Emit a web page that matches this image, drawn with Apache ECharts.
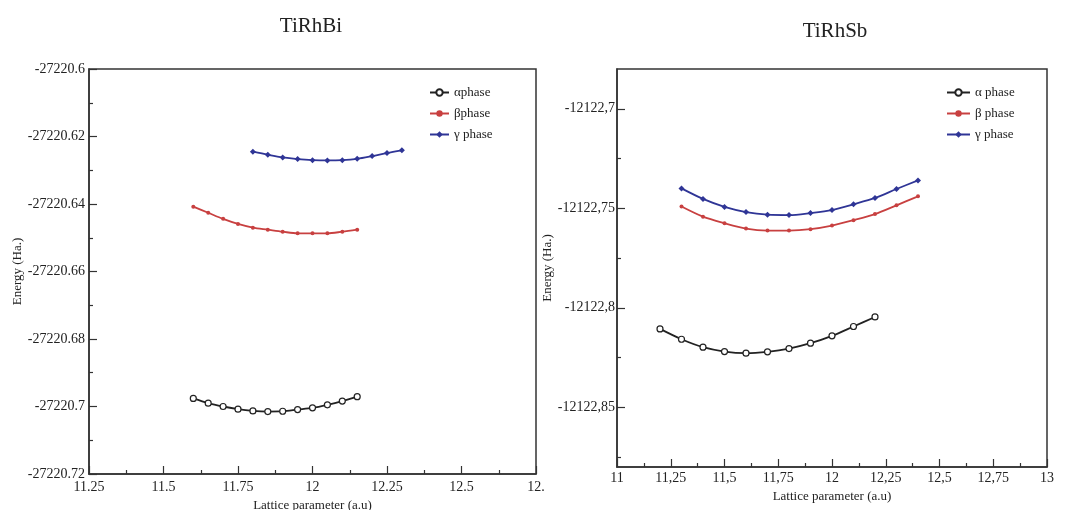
<!DOCTYPE html>
<html>
<head>
<meta charset="utf-8">
<script src="https://cdn.jsdelivr.net/npm/echarts@6/dist/echarts.min.js"></script>
<style>
  html, body { margin: 0; padding: 0; background: #fff; }
  #chart { width: 1065px; height: 510px; }
</style>
</head>
<body>
<div id="chart"></div>
<script>
// TiRhBi
const biAlphaX = [11.6, 11.65, 11.7, 11.75, 11.8, 11.85, 11.9, 11.95, 12, 12.05, 12.1, 12.15]
const biAlphaY = [-27220.6976, -27220.6990, -27220.7000, -27220.7008, -27220.7013, -27220.7015, -27220.7014, -27220.7009, -27220.7004, -27220.6995, -27220.6984, -27220.6971]
const biBetaX = [11.6, 11.65, 11.7, 11.75, 11.8, 11.85, 11.9, 11.95, 12, 12.05, 12.1, 12.15]
const biBetaY = [-27220.6408, -27220.6426, -27220.6444, -27220.6459, -27220.6470, -27220.6476, -27220.6482, -27220.6487, -27220.6487, -27220.6487, -27220.6482, -27220.6476]
const biGammaX = [11.8, 11.85, 11.9, 11.95, 12, 12.05, 12.1, 12.15, 12.2, 12.25, 12.3]
const biGammaY = [-27220.6245, -27220.6254, -27220.6262, -27220.6267, -27220.6270, -27220.6271, -27220.6270, -27220.6266, -27220.6258, -27220.6249, -27220.6241]

const biXTicks = [11.25, 11.5, 11.75, 12, 12.25, 12.5, 12.75]
const biXLabels = ['11.25', '11.5', '11.75', '12', '12.25', '12.5', '12.']
const biXMinor = [11.375, 11.625, 11.875, 12.125, 12.375, 12.625]
const biYTicks = [-27220.72, -27220.7, -27220.68, -27220.66, -27220.64, -27220.62, -27220.6]
const biYLabels = ['-27220.72', '-27220.7', '-27220.68', '-27220.66', '-27220.64', '-27220.62', '-27220.6']
const biYMinor = [-27220.71, -27220.69, -27220.67, -27220.65, -27220.63, -27220.61]

// TiRhSb
const sbAlphaX = [11.2, 11.3, 11.4, 11.5, 11.6, 11.7, 11.8, 11.9, 12, 12.1, 12.2]
const sbAlphaY = [-12122.8106, -12122.8158, -12122.8198, -12122.8220, -12122.8228, -12122.8221, -12122.8205, -12122.8178, -12122.8141, -12122.8094, -12122.8046]
const sbBetaX = [11.3, 11.4, 11.5, 11.6, 11.7, 11.8, 11.9, 12, 12.1, 12.2, 12.3, 12.4]
const sbBetaY = [-12122.7491, -12122.7542, -12122.7575, -12122.7602, -12122.7612, -12122.7612, -12122.7605, -12122.7587, -12122.7560, -12122.7529, -12122.7485, -12122.7440]
const sbGammaX = [11.3, 11.4, 11.5, 11.6, 11.7, 11.8, 11.9, 12, 12.1, 12.2, 12.3, 12.4]
const sbGammaY = [-12122.7400, -12122.7453, -12122.7493, -12122.7519, -12122.7532, -12122.7534, -12122.7524, -12122.7509, -12122.7480, -12122.7448, -12122.7403, -12122.7360]

const sbXTicks = [11, 11.25, 11.5, 11.75, 12, 12.25, 12.5, 12.75, 13]
const sbXLabels = ['11', '11,25', '11,5', '11,75', '12', '12,25', '12,5', '12,75', '13']
const sbXMinor = [11.125, 11.375, 11.625, 11.875, 12.125, 12.375, 12.625, 12.875]
const sbYTicks = [-12122.85, -12122.8, -12122.75, -12122.7]
const sbYLabels = ['-12122,85', '-12122,8', '-12122,75', '-12122,7']
const sbYMinor = [-12122.875, -12122.825, -12122.775, -12122.725]

const SERIF = 'Liberation Serif'
const AXIS_COLOR = '#333'
const BLACK = '#222'
const RED = '#c84040'
const BLUE = '#2f3596'

const pick = (ticks, labels) => v => {
    const i = ticks.findIndex(t => Math.abs(t - v) < 1e-6)
    return i < 0 ? '' : labels[i]
}

const zip = (xs, ys) => xs.map((x, i) => [x, ys[i]])

const mainAxis = (grid, pos, min, max, ticks, labels, margin, extra) => Object.assign({
    type: 'value',
    gridIndex: grid,
    position: pos,
    min: min,
    max: max,
    axisLine: { show: true, lineStyle: { color: AXIS_COLOR, width: 1.5 } },
    axisTick: { show: true, inside: true, length: 8, customValues: ticks, lineStyle: { color: AXIS_COLOR, width: 1.2 } },
    axisLabel: {
        customValues: ticks,
        formatter: pick(ticks, labels),
        margin: margin,
        color: '#222',
        fontFamily: SERIF,
        fontSize: 14
    },
    splitLine: { show: false },
    nameTextStyle: { color: '#222', fontFamily: SERIF, fontSize: 13 }
}, extra)

const minorAxis = (grid, pos, min, max, ticks) => ({
    type: 'value',
    gridIndex: grid,
    position: pos,
    min: min,
    max: max,
    axisLine: { show: false },
    axisTick: { show: true, inside: true, length: 4, customValues: ticks, lineStyle: { color: AXIS_COLOR, width: 1.2 } },
    axisLabel: { show: false },
    splitLine: { show: false }
})

const lineSeries = (name, xi, yi, data, color, symbol, size, fill) => ({
    name: name,
    type: 'line',
    xAxisIndex: xi,
    yAxisIndex: yi,
    data: data,
    smooth: 0.3,
    symbol: symbol,
    symbolSize: size,
    lineStyle: { color: color, width: 1.8 },
    itemStyle: { color: fill || color, borderColor: color, borderWidth: fill ? 1.2 : 0 },
    emphasis: { disabled: true },
    z: 3
})

const chart = echarts.init(document.getElementById('chart'))

chart.setOption({
    animation: false,
    backgroundColor: '#fff',
    title: [
        { text: 'TiRhBi', left: 311, top: 16, textAlign: 'center', padding: 0,
          textStyle: { fontFamily: SERIF, fontSize: 21, fontWeight: 'normal', color: '#222' } },
        { text: 'TiRhSb', left: 835, top: 21, textAlign: 'center', padding: 0,
          textStyle: { fontFamily: SERIF, fontSize: 21, fontWeight: 'normal', color: '#222' } }
    ],
    legend: [
        {
            orient: 'vertical', left: 429, top: 86, padding: 0,
            itemWidth: 19, itemHeight: 8, itemGap: 8,
            data: ['αphase', 'βphase', 'γ phase'],
            textStyle: { fontFamily: SERIF, fontSize: 13, color: '#222' }
        },
        {
            orient: 'vertical', left: 946, top: 86, padding: 0,
            itemWidth: 23, itemHeight: 8, itemGap: 8,
            data: ['α phase', 'β phase', 'γ phase'],
            textStyle: { fontFamily: SERIF, fontSize: 13, color: '#222' }
        }
    ],
    grid: [
        { left: 89, top: 69, width: 447, height: 405, outerBoundsMode: 'none', show: true, borderColor: AXIS_COLOR, borderWidth: 1.5, backgroundColor: 'transparent' },
        { left: 617, top: 69, width: 430, height: 398, outerBoundsMode: 'none', show: true, borderColor: AXIS_COLOR, borderWidth: 1.5, backgroundColor: 'transparent' }
    ],
    xAxis: [
        mainAxis(0, 'bottom', 11.25, 12.75, biXTicks, biXLabels, 6, {
            name: 'Lattice parameter (a.u)', nameLocation: 'middle', nameGap: 23
        }),
        mainAxis(1, 'bottom', 11, 13, sbXTicks, sbXLabels, 4, {
            name: 'Lattice parameter (a.u)', nameLocation: 'middle', nameGap: 22
        }),
        minorAxis(0, 'bottom', 11.25, 12.75, biXMinor),
        minorAxis(1, 'bottom', 11, 13, sbXMinor)
    ],
    yAxis: [
        mainAxis(0, 'left', -27220.72, -27220.6, biYTicks, biYLabels, 4, {
            name: 'Energy (Ha.)', nameLocation: 'middle', nameGap: 63
        }),
        mainAxis(1, 'left', -12122.88, -12122.68, sbYTicks, sbYLabels, 2, {
            name: 'Energy (Ha.)', nameLocation: 'middle', nameGap: 56
        }),
        minorAxis(0, 'left', -27220.72, -27220.6, biYMinor),
        minorAxis(1, 'left', -12122.88, -12122.68, sbYMinor)
    ],
    series: [
        lineSeries('αphase', 0, 0, zip(biAlphaX, biAlphaY), BLACK, 'circle', 6, '#fff'),
        lineSeries('βphase', 0, 0, zip(biBetaX, biBetaY), RED, 'circle', 4),
        lineSeries('γ phase', 0, 0, zip(biGammaX, biGammaY), BLUE, 'diamond', 6),
        lineSeries('α phase', 1, 1, zip(sbAlphaX, sbAlphaY), BLACK, 'circle', 6, '#fff'),
        lineSeries('β phase', 1, 1, zip(sbBetaX, sbBetaY), RED, 'circle', 4),
        lineSeries('γ phase', 1, 1, zip(sbGammaX, sbGammaY), BLUE, 'diamond', 6)
    ]
})
</script>
</body>
</html>
